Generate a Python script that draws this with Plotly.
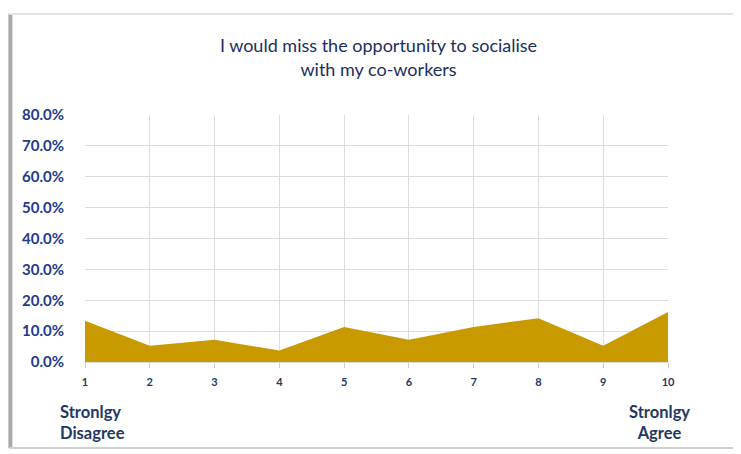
import plotly.graph_objects as go

scale_points = [1, 2, 3, 4, 5, 6, 7, 8, 9, 10]
share_pct = [13.4, 5.3, 7.2, 3.7, 11.3, 7.2, 11.3, 14.2, 5.3, 16.2]
y_ticks = [0, 10, 20, 30, 40, 50, 60, 70, 80]
y_tick_labels = [f"{v:.1f}%" for v in y_ticks]
title_text = "I would miss the opportunity to socialise<br>with my co-workers"
left_label = "Stronlgy<br>Disagree"
right_label = "Stronlgy<br>Agree"

navy = "#1F3864"
fig = go.Figure()
fig.add_trace(go.Scatter(
    x=scale_points, y=share_pct, mode="lines", fill="tozeroy",
    line=dict(color="#C99A00", width=0), fillcolor="#C99A00",
    hoverinfo="x+y", showlegend=False))

fig.update_layout(
    width=741, height=454,
    margin=dict(l=77, r=81, t=107, b=100),
    paper_bgcolor="white", plot_bgcolor="white",
    title=dict(text=title_text, x=0.5, xanchor="center", y=0.902, yanchor="top",
               font=dict(family="Lato, 'Open Sans', sans-serif", size=18, color="#1B2F60")),
    xaxis=dict(range=[1, 10], tickvals=scale_points, ticktext=[str(v) for v in scale_points],
               showgrid=True, gridcolor="#DDDDDD", gridwidth=1,
               zeroline=False, showline=True, linecolor="#DDDDDD",
               ticks="outside", ticklen=5, tickcolor="#CCCCCC",
               ticklabelstandoff=5,
               tickfont=dict(family="Lato, sans-serif", size=11, color=navy, weight="bold"),
               fixedrange=True),
    yaxis=dict(range=[0, 80], tickvals=y_ticks, ticktext=y_tick_labels,
               showgrid=True, gridcolor="#DDDDDD", gridwidth=1, zeroline=False,
               ticklabelstandoff=20,
               tickfont=dict(family="Lato, sans-serif", size=15, color="#203A8C", weight="bold"),
               fixedrange=True),
    annotations=[
        dict(text=left_label, x=-0.047, y=-0.155, xref="paper", yref="paper",
             xanchor="left", yanchor="top", align="left", showarrow=False,
             font=dict(family="Lato, sans-serif", size=16.5, color=navy, weight="bold")),
        dict(text=right_label, x=0.986, y=-0.155, xref="paper", yref="paper",
             xanchor="center", yanchor="top", align="center", showarrow=False,
             font=dict(family="Lato, sans-serif", size=16.5, color=navy, weight="bold")),
    ],
    shapes=[
        dict(type="line", xref="paper", yref="paper", x0=-0.128, x1=-0.128, y0=1.41, y1=-0.348,
             line=dict(color="#A8A8A8", width=4)),
        dict(type="line", xref="paper", yref="paper", x0=-0.13, x1=1.122, y0=1.409, y1=1.409,
             line=dict(color="#E4E4E4", width=2)),
        dict(type="line", xref="paper", yref="paper", x0=-0.13, x1=1.122, y0=-0.348, y1=-0.348,
             line=dict(color="#D0D0D0", width=2)),
        dict(type="line", xref="paper", yref="paper", x0=1.122, x1=1.122, y0=1.409, y1=-0.348,
             line=dict(color="#E0E0E0", width=1)),
    ],
)

fig.write_html("out.html")
